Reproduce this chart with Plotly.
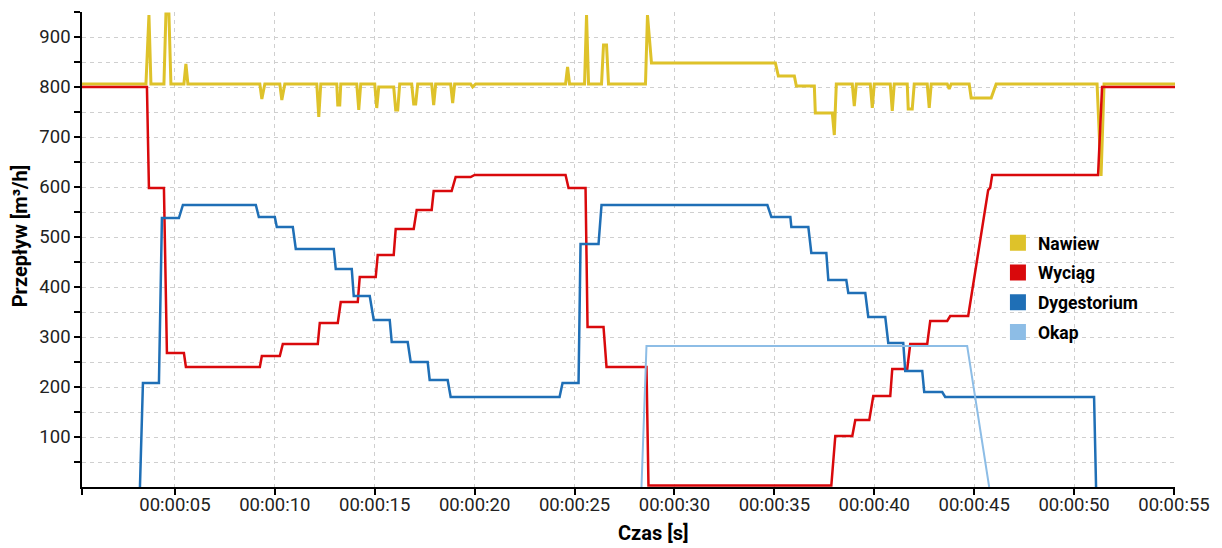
import plotly.graph_objects as go

# ---- data (seconds, m3/h) ----
nawiew_t = [0.35, 3.55, 3.7, 3.8, 4.45, 4.55, 4.7, 4.8, 5.45, 5.55, 5.65,
            9.25, 9.35, 9.5, 10.25, 10.35, 10.5, 12.1, 12.2, 12.3, 13.1, 13.15, 13.25, 13.3,
            14.1, 14.2, 14.3, 15.0, 15.1, 15.2, 15.95, 16.05, 16.15, 16.25,
            16.85, 16.95, 17.05, 17.15, 17.85, 17.95, 18.05, 18.8, 18.9, 19.0,
            19.8, 19.9, 20.05, 24.55, 24.65, 24.75, 25.5, 25.6, 25.7,
            26.35, 26.45, 26.6, 26.7, 28.55, 28.65, 28.85, 35.05, 35.2, 36.0, 36.1,
            37.0, 37.05, 37.9, 38.0, 38.1, 38.9, 39.0, 39.1, 39.8, 39.9, 40.0,
            40.8, 40.9, 41.0, 41.65, 41.7, 41.9, 42.0, 42.65, 42.75, 42.85,
            43.65, 43.75, 43.85, 44.75, 44.85, 45.85, 46.1, 51.15, 51.35, 51.5, 55.05]
nawiew_v = [806, 806, 944, 806, 806, 946, 946, 806, 806, 846, 806,
            806, 776, 806, 806, 774, 806, 806, 740, 806, 806, 764, 764, 806,
            806, 754, 806, 806, 758, 800, 800, 754, 754, 806,
            806, 766, 766, 806, 806, 764, 806, 806, 768, 806,
            806, 800, 806, 806, 840, 806, 806, 944, 806,
            806, 884, 884, 806, 806, 944, 848, 848, 822, 822, 802,
            802, 748, 748, 704, 806, 806, 762, 806, 806, 758, 806,
            806, 752, 806, 806, 756, 756, 806, 806, 758, 806,
            806, 796, 806, 806, 778, 778, 806, 806, 622, 806, 806]

wyciag_t = [0.35, 3.6, 3.7, 4.45, 4.6, 5.45, 5.55, 9.25, 9.35, 10.25, 10.4,
            12.15, 12.25, 13.15, 13.3, 14.15, 14.25, 15.05, 15.15, 15.95, 16.05,
            16.95, 17.1, 17.85, 17.95, 18.85, 19.05, 19.8, 20.0, 24.55, 24.7,
            25.55, 25.65, 26.45, 26.6, 28.6, 28.7, 37.85, 38.05, 38.9, 39.05,
            39.75, 39.95, 40.8, 40.9, 41.65, 41.8, 42.65, 42.8, 43.65, 43.8,
            44.7, 45.7, 45.8, 45.9, 51.2, 51.4, 55.05]
wyciag_v = [800, 800, 598, 598, 268, 268, 240, 240, 262, 262, 286,
            286, 328, 328, 370, 370, 420, 420, 464, 464, 516,
            516, 554, 554, 592, 592, 620, 620, 624, 624, 598,
            598, 320, 320, 240, 240, 3, 3, 102, 102, 134,
            134, 182, 182, 236, 236, 286, 286, 332, 332, 342,
            342, 594, 598, 624, 624, 800, 800]

dyg_t = [3.25, 3.4, 4.2, 4.35, 5.2, 5.4, 9.05, 9.2, 10.0, 10.1, 10.9, 11.05,
         12.95, 13.05, 13.85, 13.95, 14.75, 14.95, 15.75, 15.85, 16.65, 16.8,
         17.65, 17.75, 18.65, 18.8, 24.25, 24.4, 25.2, 25.3, 26.2, 26.35,
         34.65, 34.85, 35.8, 35.85, 36.7, 36.85, 37.6, 37.7, 38.6, 38.7,
         39.55, 39.7, 40.55, 40.7, 41.45, 41.55, 42.4, 42.5, 43.4, 43.55, 51.0, 51.1]
dyg_v = [0, 208, 208, 538, 538, 564, 564, 540, 540, 520, 520, 476,
         476, 436, 436, 382, 382, 334, 334, 290, 290, 250,
         250, 214, 214, 180, 180, 208, 208, 486, 486, 564,
         564, 540, 540, 520, 520, 468, 468, 414, 414, 388,
         388, 340, 340, 288, 288, 232, 232, 190, 190, 180, 180, 0]

okap_t = [28.35, 28.6, 44.65, 45.75]
okap_v = [0, 282, 282, 0]

names = ["Nawiew", "Wyciąg", "Dygestorium", "Okap"]
colors = ["#DEC22A", "#D9090C", "#1F6FB6", "#8DBDE6"]
widths = [3, 2.5, 2.5, 2]
series = [(nawiew_t, nawiew_v), (wyciag_t, wyciag_v), (dyg_t, dyg_v), (okap_t, okap_v)]

x_ticks = [5, 10, 15, 20, 25, 30, 35, 40, 45, 50, 55]
x_labels = ["00:00:%02d" % s for s in x_ticks]
y_ticks = [100, 200, 300, 400, 500, 600, 700, 800, 900]
y_minor = [50, 150, 250, 350, 450, 550, 650, 750, 850, 950]

fig = go.Figure()
for (t, v), n, c, w in zip(series, names, colors, widths):
    fig.add_trace(go.Scatter(x=t, y=v, mode="lines", name=n, showlegend=False,
                             line=dict(color=c, width=w)))
for i, (n, c) in enumerate(zip(names, colors)):
    fig.add_trace(go.Scatter(x=[None], y=[None], mode="markers", name=n,
                             legendgroup="g%d" % i,
                             marker=dict(symbol="square", size=16, color=c)))

grid = dict(showgrid=True, gridcolor="#cfcfcf", griddash="4px,4px", gridwidth=1)
fig.update_xaxes(range=[0.35, 55.05], tickvals=[0.35] + x_ticks, ticktext=[""] + x_labels,
                 ticks="outside", ticklen=6, tickcolor="black", tickwidth=1.5,
                 showline=True, linecolor="black", linewidth=1.5, zeroline=False,
                 ticklabelstandoff=-6,
                 tickfont=dict(family="Roboto", size=18.5, color="#222"), **grid)
fig.update_yaxes(range=[0, 950], tickvals=y_ticks, ticks="outside", ticklen=6,
                 tickcolor="black", tickwidth=1.5, showline=True, linecolor="black",
                 linewidth=1.5, zeroline=False,
                 tickfont=dict(family="Roboto", size=18.5, color="#222"),
                 minor=dict(tickvals=y_minor, ticks="outside", ticklen=6, tickcolor="black",
                            tickwidth=1.5, showgrid=True, gridcolor="#cfcfcf", griddash="4px,4px"),
                 **grid)

fig.add_annotation(text="Czas [s]", xref="paper", yref="paper", x=0.523, y=-0.126,
                   xanchor="center", yanchor="bottom", showarrow=False,
                   font=dict(family="Roboto", size=20, color="black", weight="bold"))
fig.add_annotation(text="Przepływ [m³/h]", xref="paper", yref="paper", x=-0.0566, y=0.528,
                   textangle=-90, xanchor="center", yanchor="middle", showarrow=False,
                   font=dict(family="Roboto", size=20, color="black", weight="bold"))

fig.update_layout(width=1222, height=548, margin=dict(l=82, r=45, t=12, b=61),
                  plot_bgcolor="white", paper_bgcolor="white",
                  legend=dict(x=0.838, y=0.552, xanchor="left", yanchor="top",
                              traceorder="grouped", tracegroupgap=4,
                              bgcolor="rgba(255,255,255,0)",
                              font=dict(family="Roboto", size=17.5, color="black", weight="bold")))
fig.write_html("out.html", config={"displayModeBar": False},
               post_script="document.body.style.margin='0';")
